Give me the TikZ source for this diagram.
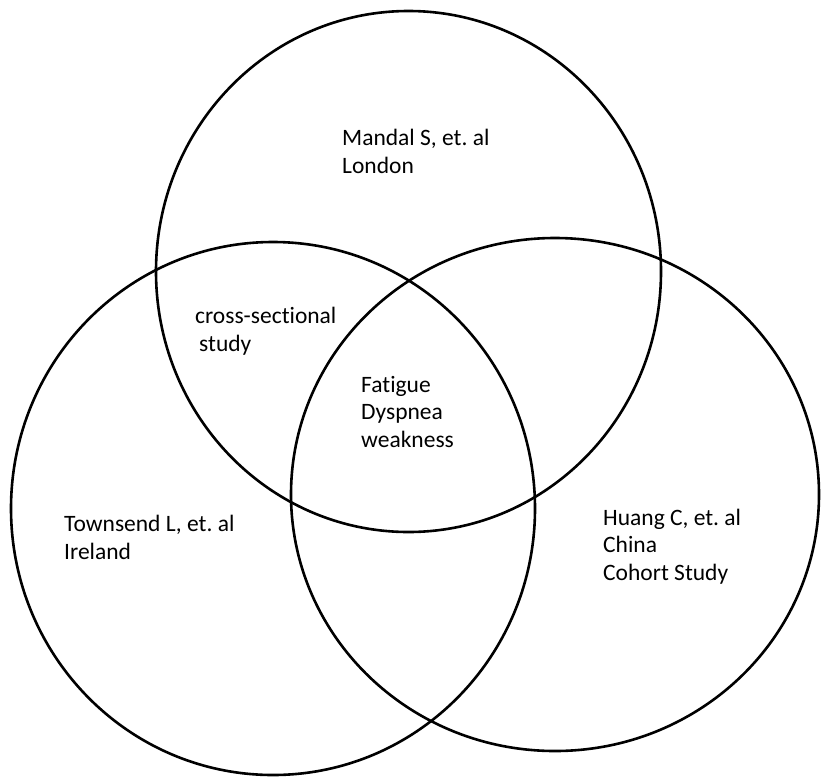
\documentclass[tikz,border=0pt]{standalone}
\usepackage{fontspec}
\setmainfont{Carlito}[Ligatures=NoCommon]
\begin{document}
\frenchspacing
\begin{tikzpicture}[x=1pt,y=-1pt,
  ring/.style={draw=black,line width=2.6pt},
  lbl/.style={anchor=base west,inner sep=0pt,align=left,font=\fontsize{23.5}{27.5}\selectfont}]
\useasboundingbox[fill=white] (0,0) rectangle (821,777);
\draw[ring] (408.5,271.5) ellipse [x radius=252.5pt, y radius=260.5pt];
\draw[ring] (273,508.5) ellipse [x radius=262pt, y radius=266.5pt];
\draw[ring] (555,494.5) ellipse [x radius=264pt, y radius=256.5pt];
\node[lbl] (mandal) at (342,173) {Mandal S, et. al\\London};
\node[lbl] (cross) at (195,351) {cross-sectional\\\hspace{4pt}study};
\node[lbl] (core) at (361,447) {Fatigue\\Dyspnea\\weakness};
\node[lbl] (towns) at (64,559) {Townsend L, et. al\\Ireland};
\node[lbl] (huang) at (603,580) {Huang C, et. al\\China\\Cohort Study};
\end{tikzpicture}
\end{document}
